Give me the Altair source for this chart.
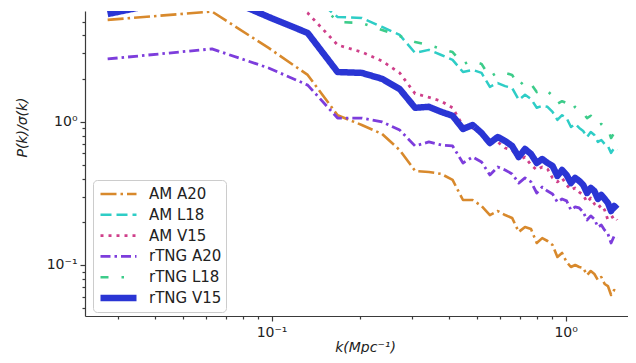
import altair as alt
import pandas as pd

# wavenumber bins (Mpc^-1)
k = [0.0277, 0.0627, 0.0977, 0.1327, 0.1677, 0.2027, 0.2377, 0.2727, 0.3077, 0.3427,
     0.3777, 0.4127, 0.4477, 0.4827, 0.5177, 0.5527, 0.5877, 0.6227, 0.6577, 0.6927,
     0.7277, 0.7627, 0.7977, 0.8327, 0.8677, 0.9027, 0.9377, 0.9727, 1.0077, 1.0427,
     1.0777, 1.1127, 1.1477, 1.1827, 1.2177, 1.2527, 1.2877, 1.3227, 1.3577, 1.3927,
     1.4277, 1.4627, 1.4977]

am_a20 = [5.13, 5.87, 3.27, 2.12, 1.11, 0.948, 0.821, 0.634, 0.453, 0.446,
          0.432, 0.392, 0.284, 0.284, 0.258, 0.223, 0.238, 0.223, 0.213, 0.170,
          0.184, 0.178, 0.1425, 0.154, 0.147, 0.138, 0.1137, 0.1213, 0.105, 0.0968,
          0.100, 0.0968, 0.0953, 0.0851, 0.0908, 0.0865, 0.0785, 0.0824, 0.0737, 0.0713,
          0.0618, 0.0669, 0.0648]

am_l18 = [11.0, 12.0, 10.0, 8.0, 5.38, 5.29, 4.58, 4.03, 3.02, 3.17,
          2.92, 2.70, 2.22, 2.30, 2.19, 1.75, 1.86, 1.77, 1.72, 1.42,
          1.54, 1.44, 1.25, 1.29, 1.27, 1.17, 1.03, 1.11, 1.06, 0.918,
          0.964, 0.904, 0.861, 0.782, 0.847, 0.808, 0.722, 0.745, 0.699, 0.677,
          0.605, 0.655, 0.635]

am_v15 = [7.5, 9.5, 8.5, 5.73, 3.43, 3.06, 2.65, 2.19, 1.57, 1.48,
          1.39, 1.25, 0.933, 0.904, 0.834, 0.745, 0.722, 0.655, 0.635, 0.541,
          0.567, 0.499, 0.460, 0.483, 0.468, 0.405, 0.380, 0.405, 0.362, 0.334,
          0.345, 0.323, 0.308, 0.275, 0.293, 0.267, 0.250, 0.262, 0.242, 0.206,
          0.213, 0.220, 0.206]

rtng_a20 = [2.74, 3.22, 2.37, 1.80, 1.06, 1.06, 0.995, 0.875, 0.677, 0.722,
            0.688, 0.677, 0.515, 0.567, 0.523, 0.425, 0.483, 0.460, 0.432, 0.373,
            0.405, 0.380, 0.318, 0.350, 0.328, 0.313, 0.275, 0.289, 0.280, 0.242,
            0.254, 0.250, 0.234, 0.206, 0.220, 0.209, 0.184, 0.190, 0.175, 0.165,
            0.1424, 0.159, 0.154]

rtng_l18 = [12.0, 13.0, 11.0, 8.3, 4.96, 4.88, 4.36, 3.96, 3.60, 3.43,
            3.22, 3.06, 2.53, 2.65, 2.53, 2.05, 2.22, 2.19, 2.12, 1.77,
            1.95, 1.83, 1.61, 1.69, 1.64, 1.51, 1.33, 1.39, 1.35, 1.21,
            1.27, 1.21, 1.15, 1.06, 1.10, 1.04, 0.948, 0.964, 0.918, 0.889,
            0.770, 0.834, 0.808]

rtng_v15 = [5.64, 7.97, 5.38, 4.16, 2.22, 2.19, 1.99, 1.69, 1.25, 1.27,
            1.17, 1.10, 0.889, 0.948, 0.834, 0.710, 0.782, 0.733, 0.677, 0.567,
            0.645, 0.595, 0.515, 0.549, 0.515, 0.491, 0.418, 0.460, 0.425, 0.373,
            0.405, 0.386, 0.362, 0.318, 0.345, 0.328, 0.289, 0.308, 0.289, 0.271,
            0.238, 0.258, 0.246]

series_names = ["AM A20", "AM L18", "AM V15", "rTNG A20", "rTNG L18", "rTNG V15"]
series_values = [am_a20, am_l18, am_v15, rtng_a20, rtng_l18, rtng_v15]
colors = ["#d8892c", "#2ecdc6", "#cf3f8a", "#7d3ddc", "#3dcc8a", "#2a35d4"]
dashes = [[16, 4, 2.5, 4], [11, 5], [3, 5], [10, 4, 2.5, 4], [8, 13, 2.5, 13], [1, 0]]
widths = [2.6, 2.5, 2.8, 2.8, 2.6, 6.5]

x_ticks = [0.03, 0.04, 0.05, 0.06, 0.07, 0.08, 0.09, 0.1,
           0.2, 0.3, 0.4, 0.5, 0.6, 0.7, 0.8, 0.9, 1]
y_ticks = [0.05, 0.06, 0.07, 0.08, 0.09, 0.1,
           0.2, 0.3, 0.4, 0.5, 0.6, 0.7, 0.8, 0.9, 1, 2, 3, 4, 5]

rows = []
for name, vals in zip(series_names, series_values):
    for kk, v in zip(k, vals):
        rows.append({"k": kk, "p": v, "series": name})
df = pd.DataFrame(rows)

major = "datum.value == 0.1 || datum.value == 1"
lab = "datum.value == 0.1 ? '10⁻¹' : datum.value == 1 ? '10⁰' : ''"
tick_size = {"condition": {"test": major, "value": 5}, "value": 3}

x_axis = alt.Axis(values=x_ticks, labelExpr=lab, tickSize=tick_size,
                  labelOverlap=False, labelFlush=False, labelPadding=4,
                  title="k(Mpc⁻¹)", titleFontStyle="italic", titleFontWeight="normal",
                  titleFontSize=14, titleX=280, titleY=35, titleAlign="center",
                  titleBaseline="alphabetic", grid=False)
y_axis = alt.Axis(values=y_ticks, labelExpr=lab, tickSize=tick_size,
                  labelOverlap=False, labelFlush=False, labelPadding=3,
                  title="P(k)/σ(k)", titleFontStyle="italic", titleFontWeight="normal",
                  titleFontSize=14, titleX=-63, titleY=116, titleAngle=270,
                  titleAlign="center", titleBaseline="middle", grid=False)

legend = alt.Legend(title=None, orient="none", legendX=8, legendY=169,
                    direction="vertical", symbolType="stroke", symbolSize=1296,
                    clipHeight=20, rowPadding=0.8, padding=4,
                    fillColor="white", strokeColor="#cccccc", cornerRadius=4,
                    labelFont="DejaVu Sans", labelFontSize=15, labelColor="#222222",
                    labelOffset=9)

chart = alt.Chart(df).mark_line(clip=True, strokeJoin="round", strokeCap="butt").encode(
    x=alt.X("k:Q", scale=alt.Scale(type="log", domain=[0.0232, 1.63], nice=False), axis=x_axis),
    y=alt.Y("p:Q", scale=alt.Scale(type="log", domain=[0.04406, 5.92], nice=False), axis=y_axis),
    color=alt.Color("series:O", scale=alt.Scale(domain=series_names, range=colors), legend=legend),
    strokeDash=alt.StrokeDash("series:O", scale=alt.Scale(domain=series_names, range=dashes), legend=legend),
    strokeWidth=alt.StrokeWidth("series:O", scale=alt.Scale(type="ordinal", domain=series_names, range=widths), legend=legend),
    detail="series:N",
).properties(
    width=543, height=305,
    autosize=alt.AutoSizeParams(type="none"),
    padding={"left": 77, "top": 3, "right": 0, "bottom": 38},
).configure_view(stroke=None).configure_axis(
    domainColor="#3a3a3a", tickColor="#3a3a3a", domainWidth=1.2, tickWidth=1.2,
    labelFont="DejaVu Sans", labelFontSize=14, labelColor="#222222",
    titleFont="DejaVu Sans", titleColor="#222222",
)

chart.save("out.html", embed_options={"renderer": "svg", "actions": False})
